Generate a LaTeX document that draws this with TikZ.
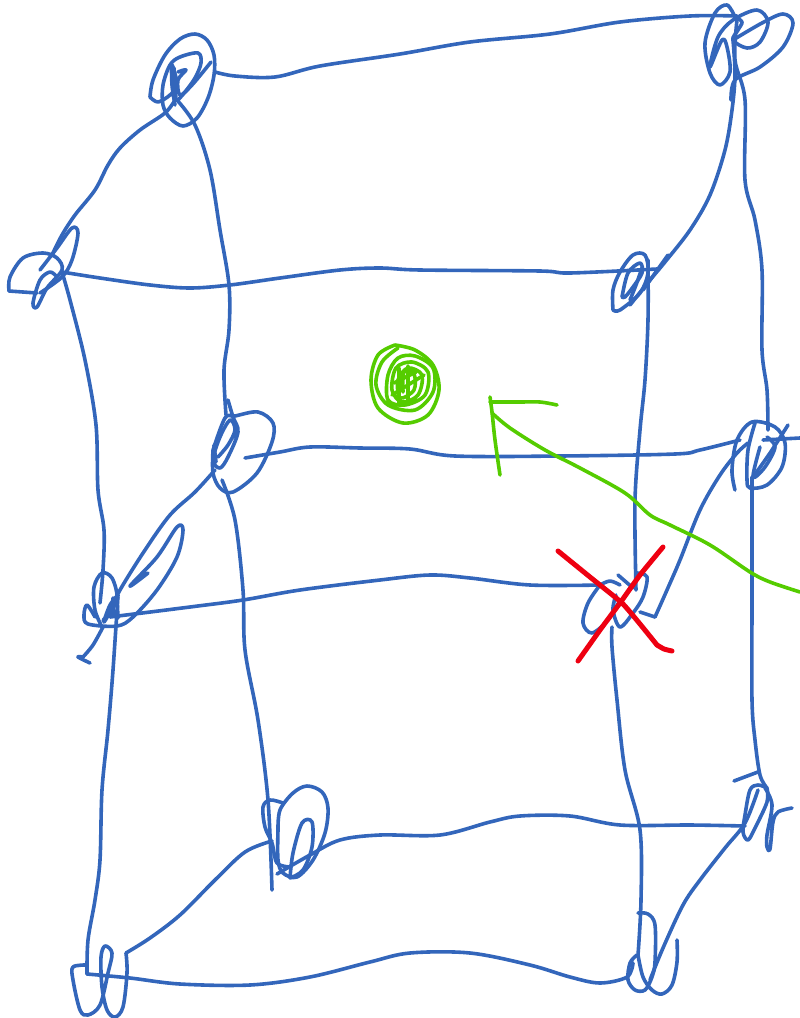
\documentclass[tikz,border=0pt]{standalone}
\definecolor{inkblue}{HTML}{3366BB}
\definecolor{inkgreen}{HTML}{55CC00}
\definecolor{inkred}{HTML}{EE0011}
\tikzset{
  pen/.style={line width=3.6pt,line cap=round,line join=round},
  bluepen/.style={pen,draw=inkblue},
  greenpen/.style={pen,draw=inkgreen},
  redpen/.style={pen,draw=inkred,line width=5pt}
}
\newcommand{\bl}[1]{\draw[bluepen] plot[smooth,tension=0.55] coordinates {#1};}
\newcommand{\gr}[1]{\draw[greenpen] plot[smooth,tension=0.55] coordinates {#1};}
\newcommand{\rd}[1]{\draw[redpen] plot[smooth,tension=0.3] coordinates {#1};}
\begin{document}
\begin{tikzpicture}[x=1pt,y=-1pt]
\useasboundingbox (0,0) rectangle (800,1018);
% edges: top
\bl{(215,72)(235,76)(275,77)(320,66)(400,54)(470,42)(550,34)(620,22)(690,16)(737,16)}
\bl{(175,100)(165,113)(140,130)(120,148)(108,165)(95,190)(75,215)(62,235)(52,255)}
\bl{(177,100)(195,125)(210,170)(220,230)(229,285)(229,330)(224,370)(226,415)}
\bl{(222,480)(235,520)(243,590)(245,650)(258,720)(268,800)(272,890)}
\bl{(737,20)(735,60)(745,100)(745,180)(755,220)(762,270)(762,350)(767,390)(768,430)}
\bl{(733,40)(735,75)(732,110)(725,150)(710,195)(690,230)(665,262)(650,280)(630,305)}
% row 2
\bl{(62,272)(100,278)(150,285)(190,288)(230,285)(280,278)(340,270)(380,268)(420,270)(540,271)(570,273)(657,269)}
\bl{(62,272)(70,300)(85,360)(96,425)(98,490)(104,530)(103,570)(100,603)}
\bl{(648,260)(648,320)(645,380)(640,430)(635,500)(636,590)}
% row 3
\bl{(245,458)(280,452)(310,447)(360,448)(410,449)(455,456)(560,456)(675,454)(700,450)(740,440)}
\bl{(215,470)(195,492)(170,515)(145,550)(120,590)(108,615)}
\draw[bluepen] (763,440) -- (800,438);
% row 4
\bl{(110,617)(190,607)(243,600)(300,590)(380,580)(430,575)(470,578)(530,585)(600,585)}
\bl{(118,595)(113,670)(108,730)(102,790)(100,860)(95,900)(88,940)(87,974)}
\bl{(87,974)(130,978)(180,984)(250,985)(310,977)(370,962)(410,953)(470,953)(530,965)(570,977)(600,983)(627,977)(633,963)}
\bl{(612,627)(612,647)(617,700)(625,770)(640,830)(641,900)(638,955)}
\bl{(640,612)(655,617)}
\bl{(655,617)(667,590)(680,560)(700,510)(720,475)(737,453)(748,443)}
\bl{(752,477)(752,600)(752,700)(755,740)(760,775)(767,788)}
% bottom back
\bl{(277,874)(310,855)(340,840)(380,835)(440,835)(490,822)(520,816)(570,816)(620,825)(690,825)(745,826)}
\bl{(126,953)(150,938)(180,915)(215,880)(245,852)(272,841)}
\bl{(758,790)(745,823)(725,848)(700,880)(683,905)(663,948)(650,980)}
% knot top-left
\bl{(150,97)(153,80)(165,55)(180,39)(195,34)(207,40)(214,55)(214,75)(208,98)(197,118)(183,126)(170,118)(163,105)(163,85)(170,65)(180,57)(198,53)(201,63)(195,78)(185,92)(178,100)}
\bl{(150,97)(158,102)(170,95)(177,85)(172,65)(172,85)(175,105)}
\bl{(178,72)(186,70)(178,80)(180,95)(192,85)(211,62)}
\draw[bluepen] (174,68) -- (176,100);
% knot top-right
\bl{(735,17)(727,5)(715,13)(705,43)(710,73)(720,85)(730,72)(727,47)(722,40)(710,67)(718,37)(733,20)(757,10)(768,22)(760,42)(747,48)(733,40)(738,30)(742,22)(735,17)}
\bl{(733,40)(762,23)(783,14)(793,23)(783,47)(760,67)(735,80)(731,100)}
% knot left
\bl{(37,293)(9,291)}
\bl{(9,291)(10,277)(23,258)(43,253)(57,258)(62,270)(47,288)(37,307)(33,303)(40,280)(50,272)(57,277)}
\bl{(40,270)(57,248)(72,228)(78,233)(72,260)(62,277)(40,293)}
% knot row 2 right
\bl{(613,310)(613,290)(620,272)(633,255)(645,255)(648,273)(640,293)(620,310)(613,310)}
\bl{(622,297)(628,273)(640,263)(642,273)(633,287)(625,297)(622,297)}
\bl{(630,300)(636,285)(642,268)}
\draw[bluepen] (668,255) -- (643,290);
% knot centre
\bl{(228,400)(233,417)(238,432)(228,457)(220,468)(213,460)(220,437)(230,420)(235,430)(228,445)(218,457)}
\bl{(213,450)(225,418)(235,416)(258,412)(273,423)(272,442)(257,473)(233,492)(220,488)(213,473)(213,450)}
\draw[bluepen] (214,445) -- (216,462);
% knot right
\bl{(735,490)(732,470)(737,440)(752,422)(775,427)(785,443)(782,467)(767,485)(750,488)(747,480)(748,450)(755,423)}
\bl{(753,477)(770,453)(788,425)}
\bl{(767,437)(775,447)(765,467)(753,477)(760,447)}
% knot lower-left
\bl{(148,573)(130,586)(157,557)(177,527)(183,530)(177,557)(157,590)(133,617)(117,626)(88,624)(84,615)(87,605)(95,617)}
\bl{(102,627)(95,610)(94,587)(102,573)(112,578)(117,597)(110,613)(103,620)}
\bl{(103,627)(93,645)(83,657)}
\bl{(83,657)(78,657)(90,663)}
\bl{(118,595)(110,605)(104,622)(114,605)(118,597)}
\draw[bluepen] (117,595) -- (118,618) (113,598) -- (113,616);
% knot red
\bl{(600,585)(588,603)(583,623)(592,633)(608,620)(620,600)}
\bl{(600,585)(610,581)(620,585)}
\bl{(618,575)(633,588)}
\bl{(637,573)(647,577)(643,597)(633,613)(620,627)(613,610)(616,595)}
% knot bottom back
\bl{(283,803)(270,800)(263,807)(265,827)(272,843)(277,863)(290,867)}
\bl{(278,830)(280,810)(293,793)(307,786)(322,792)(328,808)(325,833)(313,860)(297,877)(283,873)(278,860)(278,830)}
\bl{(290,878)(293,853)(302,823)(312,822)(312,847)(303,870)(290,878)}
% knot bottom right back
\draw[bluepen] (734,781) -- (758,772);
\bl{(767,788)(758,785)(750,790)(745,815)(743,832)(748,840)(755,828)(767,802)(767,788)}
\bl{(765,788)(772,805)(767,835)(767,847)(770,849)(773,822)(778,812)(792,808)}
% knot bottom left
\bl{(87,965)(73,967)(73,980)(80,1010)(88,1015)(100,1005)(108,973)(112,953)(105,946)(101,957)(102,987)(107,1010)(115,1017)(123,1007)(127,973)(126,953)}
% knot bottom right
\bl{(638,955)(643,977)(652,990)(662,994)(672,985)(677,962)(677,940)}
\bl{(638,913)(648,914)(655,925)(655,962)(652,977)(645,990)(635,990)(628,980)(630,963)(637,955)}
% green
\gr{(800,592)(770,582)(750,572)(710,545)(670,525)(650,515)(625,493)(580,468)(545,450)(510,428)(492,413)}
\gr{(490,397)(492,412)(495,440)(500,475)}
\gr{(490,402)(520,402)(540,402)(557,405)}
\gr{(395,345)(378,355)(371,380)(378,408)(403,423)(428,415)(439,390)(433,365)(415,350)(395,345)}
\gr{(398,348)(382,362)(376,385)(388,405)(415,410)(433,392)(433,368)(415,356)(398,358)(388,375)(388,400)(405,405)(425,395)(428,372)(412,362)(396,368)(392,390)(402,402)(418,395)(422,375)(408,368)(398,380)(400,398)(414,390)(414,374)(404,372)(403,392)}
\draw[greenpen] (399,368) -- (399,403) (408,366) -- (408,400) (392,395) -- (424,375) (394,383) -- (416,372);
% red
\rd{(558,551)(590,577)(622,603)(640,624)(657,645)}
\rd{(657,645)(664,649)(672,651)}
\rd{(663,547)(640,575)(620,603)(600,630)(578,661)}
\end{tikzpicture}
\end{document}
